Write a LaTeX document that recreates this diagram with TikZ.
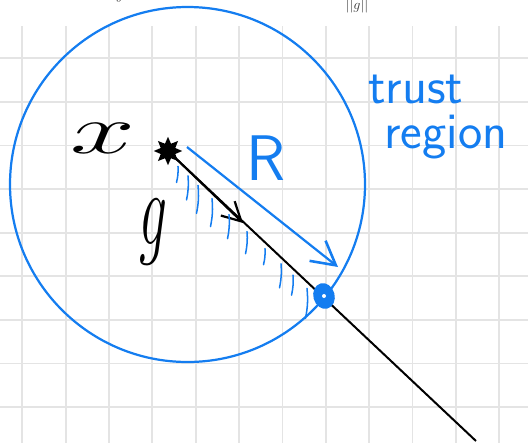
\documentclass[tikz,border=0pt]{standalone}
\usepackage{amsmath}
\usepackage{xcolor}
\usetikzlibrary{shapes.geometric,arrows.meta}

\definecolor{trustblue}{RGB}{20,125,240}
\definecolor{gridgray}{RGB}{228,228,228}

\tikzset{
    gridline/.style={draw=gridgray, line width=1.5pt},
    trustline/.style={draw=trustblue, line width=1.9pt},
    hatchline/.style={draw=trustblue, line width=1.3pt, line cap=round},
    inkline/.style={draw=black, line width=1.7pt}
}

\begin{document}
\begin{tikzpicture}[x=0.03cm, y=-0.03cm]

\useasboundingbox (0,0) rectangle (528,443);

% squared paper
\foreach \gx in {0,...,11}
    \draw[gridline] ({22.3+43.35*\gx},26) -- ({22.3+43.35*\gx},443);
\foreach \gy in {0,...,8}
    \draw[gridline] (0,{58.3+43.6*\gy}) -- (528,{58.3+43.6*\gy});

% cut-off text of the page above
\node[anchor=base, font=\large, text=black!80] (pagea) at (127,-1) {$y =$};
\node[anchor=base, font=\large, text=black!80] (pageb) at (305,-4) {$c$};
\node[anchor=south, font=\large, inner sep=0pt, text=black!80] (pagec) at (357,13) {$||g||$};

% trust region
\coordinate (c0) at (187.5,184.5);
\draw[trustline] (c0) circle[radius=177.5];

\node[
    star,
    star points=8,
    star point ratio=1.8,
    fill=black,
    inner sep=0pt,
    minimum size=0.85cm
] (x0) at (168,151) {};

\coordinate (lineend) at (476,441);
\coordinate (gtip) at (243,223);
\coordinate (rstart) at (187,147);
\coordinate (rtip) at (338,267);

\draw[inkline] (x0.center) -- (lineend);
\draw[inkline, -{Straight Barb[length=16pt, width=17pt, line width=1.9pt]}] (x0.center) -- (gtip);
\draw[trustline, -{Straight Barb[length=20pt, width=22pt, line width=2.2pt]}] (rstart) -- (rtip);

% hatching below the step
\foreach \hx/\hl in {178/16, 188/24, 198/28, 212/28, 229/24, 247/22, 265/16, 281/24, 293/20, 307/30}
    \draw[hatchline] (\hx,{150+0.945*(\hx-168)+7}) to[bend left=8] ++(-1.5,\hl);

\node[
    ellipse,
    fill=trustblue,
    rotate=15,
    inner sep=0pt,
    minimum width=0.64cm,
    minimum height=0.78cm
] (hit) at (324,296) {};
\fill[white] (hit.center) circle[radius=2];

% labels
\node[font=\Huge] (xlabel) at (103,138)
{\scalebox{4}[2.4]{$x$}};

\node[font=\Huge] (glabel) at (153,232)
{\scalebox{1.9}[3.6]{$g$}};

\node[font=\fontsize{55}{55}\sffamily, text=trustblue] (rlabel) at (266,158)
{R};

\node[anchor=base west, inner sep=0pt, font=\fontsize{44}{44}\sffamily, text=trustblue] (trust) at (368,103)
{trust};

\node[anchor=base west, inner sep=0pt, font=\fontsize{44}{44}\sffamily, text=trustblue] (region) at (384,148)
{region};

\end{tikzpicture}
\end{document}
